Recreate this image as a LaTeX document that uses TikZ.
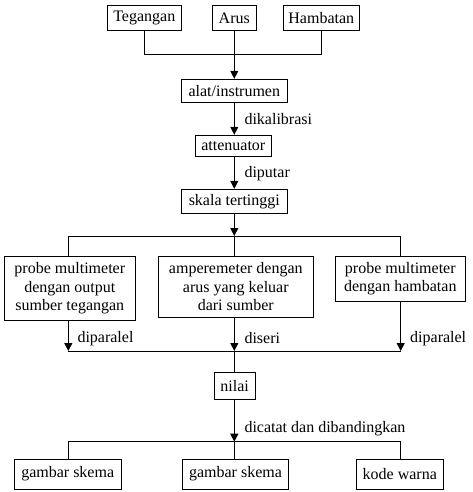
\documentclass[tikz,border=0pt]{standalone}
\usepackage{fontspec}
\setmainfont{Liberation Serif}
\usetikzlibrary{arrows.meta}
\begin{document}
\begin{tikzpicture}[x=1pt,y=-1pt,
  box/.style={draw,line width=1pt,inner sep=0pt,align=center,font=\fontsize{16}{18.5}\selectfont},
  lbl/.style={anchor=west,inner sep=0pt,font=\fontsize{16}{18.5}\selectfont},
  ln/.style={line width=1pt},
  arr/.style={line width=1pt,-{Triangle[width=8pt,length=8pt]}}]
\useasboundingbox (0,0) rectangle (472,492);
% column x positions
\coordinate (cL) at (68.3,0);
\coordinate (cM) at (234.3,0);
\coordinate (cR) at (400.7,0);
% nodes
\node[box,minimum width=74pt,minimum height=24.5pt] (teg) at (144.3,18) {Tegangan};
\node[box,minimum width=44pt,minimum height=24.5pt] (arus) at (234.3,18) {Arus};
\node[box,minimum width=76pt,minimum height=24.5pt] (ham) at (321.3,18) {Hambatan};
\node[box,minimum width=106pt,minimum height=23pt] (alat) at (234.3,90.8) {alat/instrumen};
\node[box,minimum width=76pt,minimum height=21pt] (att) at (233.3,145.8) {attenuator};
\node[box,minimum width=106pt,minimum height=23.7pt] (skala) at (234.3,201.2) {skala tertinggi};
\node[box,minimum width=131pt,minimum height=64.3pt] (lp) at (69.8,288.2) {probe multimeter\\dengan output\\sumber tegangan};
\node[box,minimum width=155pt,minimum height=61pt] (amp) at (235.8,286.7) {amperemeter dengan\\arus yang keluar\\dari sumber};
\node[box,minimum width=130pt,minimum height=45pt] (rp) at (400.3,278.5) {probe multimeter\\dengan hambatan};
\node[box,minimum width=41.3pt,minimum height=27.3pt] (nilai) at (234.7,386.3) {nilai};
\node[box,minimum width=106.7pt,minimum height=30pt] (g1) at (67.7,474) {gambar skema};
\node[box,minimum width=106.4pt,minimum height=30pt] (g2) at (235.5,474) {gambar skema};
\node[box,minimum width=87pt,minimum height=30pt] (kw) at (399.8,474) {kode warna};
% junction coordinates
\coordinate (j1) at (234.3,54.3);
\coordinate (j2) at (234.3,236);
\coordinate (j3) at (234.3,351);
\coordinate (j4) at (234.3,441.7);
% labels
\node[lbl] (l1) at (244.3,119.3) {dikalibrasi};
\node[lbl] (l2) at (244.3,173.7) {diputar};
\node[lbl] (l3) at (77.3,338.3) {diparalel};
\node[lbl] (l4) at (244.3,338.3) {diseri};
\node[lbl] (l5) at (410,338.3) {diparalel};
\node[lbl] (l6) at (244.3,428.3) {dicatat dan dibandingkan};
% top merge
\draw[ln] (teg.south) -- (teg.south |- j1) -- (ham.south |- j1) -- (ham.south);
\draw[arr] (arus.south) -- (alat.north);
\draw[arr] (alat.south) -- (att.north -| alat.south);
\draw[arr] (att.south -| alat.south) -- (skala.north);
\draw[arr] (skala.south) -- (j2);
% split
\draw[ln] (cL |- lp.north) -- (cL |- j2) -- (cR |- j2) -- (cR |- rp.north);
\draw[ln] (j2) -- (cM |- amp.north);
% merge
\draw[arr] (cL |- lp.south) -- (cL |- j3);
\draw[arr] (cM |- amp.south) -- (j3);
\draw[arr] (cR |- rp.south) -- (cR |- j3);
\draw[ln] (cL |- j3) -- (cR |- j3);
\draw[ln] (j3) -- (nilai.north -| j3);
\draw[arr] (nilai.south -| j4) -- (j4);
% final split
\draw[ln] (cL |- g1.north) -- (cL |- j4) -- (cR |- j4) -- (cR |- kw.north);
\draw[ln] (j4) -- (cM |- g2.north);
\end{tikzpicture}
\end{document}
